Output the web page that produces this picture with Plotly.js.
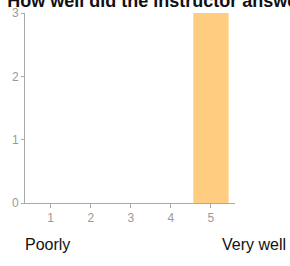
<!DOCTYPE html>
<html><head><meta charset="utf-8">
<script src="https://cdn.plot.ly/plotly-3.0.1.min.js"></script>
<style>html,body{margin:0;padding:0;background:#fff;}#chart{width:290px;height:266px;}</style>
</head><body><div id="chart"></div>
<script>
var categories = [1, 2, 3, 4, 5];
var counts = [0, 0, 0, 0, 3];
var yTicks = [0, 1, 2, 3];
var chartTitle = "How well did the instructor answer questions?";
var lowLabel = "Poorly";
var highLabel = "Very well";

var trace = {
  type: 'bar', x: categories, y: counts, width: 0.88,
  marker: {color: '#ffcd80', line: {width: 0}},
  hoverinfo: 'none'
};
var layout = {
  width: 290, height: 266,
  margin: {l: 25, r: 55, t: 13, b: 63},
  paper_bgcolor: '#fff', plot_bgcolor: '#fff',
  font: {family: 'Liberation Sans, Arial, sans-serif'},
  title: {text: '<b>' + chartTitle + '</b>', x: 0.025, xanchor: 'left', xref: 'container',
          y: 0.975, yref: 'container', yanchor: 'bottom', font: {size: 18, color: '#111'}},
  showlegend: false,
  xaxis: {range: [0.36, 5.6], tickvals: categories, ticks: 'outside', ticklen: 4, tickcolor: '#aaa',
          showline: true, linecolor: '#aaa', linewidth: 1, showgrid: false, zeroline: false,
          tickfont: {size: 12, color: '#999'}, fixedrange: true},
  yaxis: {range: [0, 3], tickvals: yTicks, ticks: 'outside', ticklen: 3, tickcolor: '#aaa',
          showline: true, linecolor: '#aaa', linewidth: 1, showgrid: false, zeroline: false,
          tickfont: {size: 12, color: '#999'}, fixedrange: true},
  annotations: [
    {text: lowLabel, xref: 'paper', yref: 'paper', x: -0.01, y: -0.22, xanchor: 'left', yanchor: 'middle',
     showarrow: false, font: {size: 16, color: '#111'}},
    {text: highLabel, xref: 'paper', yref: 'paper', x: 1.25, y: -0.22, xanchor: 'right', yanchor: 'middle',
     showarrow: false, font: {size: 16, color: '#111'}}
  ]
};
Plotly.newPlot('chart', [trace], layout, {displayModeBar: false, staticPlot: true});
</script></body></html>
